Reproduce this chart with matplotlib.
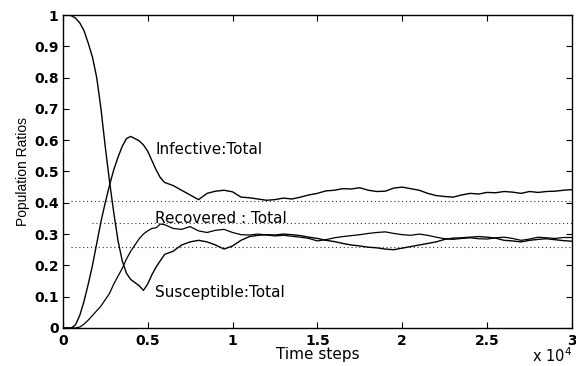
import matplotlib
matplotlib.use('Agg')
import matplotlib.pyplot as plt
from matplotlib.ticker import FuncFormatter, MultipleLocator

plt.rcParams['font.family'] = ['DejaVu Sans']

# time steps
time_steps = list(range(0, 6001, 250)) + list(range(6500, 30001, 500))

susceptible = [1.0, 1.0, 0.998, 0.99, 0.975, 0.95, 0.91, 0.865, 0.80, 0.70,
               0.58, 0.47, 0.37, 0.28, 0.215, 0.175, 0.155, 0.145, 0.135, 0.12,
               0.14, 0.17, 0.195, 0.215, 0.235,
               0.245, 0.265, 0.275, 0.28, 0.275, 0.265, 0.252, 0.262, 0.28, 0.292,
               0.296, 0.298, 0.297, 0.30, 0.298, 0.295, 0.29, 0.286, 0.28, 0.276,
               0.27, 0.265, 0.262, 0.258, 0.256, 0.252, 0.25, 0.255, 0.26, 0.265,
               0.27, 0.275, 0.283, 0.287, 0.288, 0.29, 0.292, 0.29, 0.287, 0.28,
               0.278, 0.275, 0.28, 0.283, 0.285, 0.282, 0.279, 0.277]

recovered = [0.0, 0.0, 0.0, 0.0, 0.003, 0.012, 0.025, 0.04, 0.055, 0.07,
             0.09, 0.11, 0.14, 0.165, 0.19, 0.22, 0.245, 0.265, 0.285, 0.30,
             0.31, 0.318, 0.32, 0.332, 0.33,
             0.318, 0.315, 0.324, 0.31, 0.305, 0.312, 0.315, 0.305, 0.298, 0.297,
             0.30, 0.297, 0.294, 0.296, 0.293, 0.29, 0.286, 0.278, 0.282, 0.288,
             0.292, 0.295, 0.298, 0.302, 0.305, 0.307, 0.302, 0.298, 0.296, 0.30,
             0.296, 0.29, 0.285, 0.283, 0.286, 0.288, 0.285, 0.284, 0.288, 0.29,
             0.286, 0.28, 0.284, 0.29, 0.288, 0.286, 0.289, 0.289]

infective = [0.0, 0.0, 0.0, 0.01, 0.04, 0.085, 0.14, 0.20, 0.27, 0.34,
             0.40, 0.455, 0.505, 0.545, 0.58, 0.605, 0.612, 0.605, 0.598, 0.585,
             0.565, 0.535, 0.505, 0.48, 0.465,
             0.455, 0.44, 0.425, 0.41, 0.43, 0.437, 0.44, 0.435, 0.418, 0.416,
             0.412, 0.408, 0.41, 0.415, 0.412, 0.418, 0.425, 0.43, 0.438, 0.44,
             0.445, 0.444, 0.448, 0.44, 0.436, 0.437, 0.447, 0.45, 0.445, 0.44,
             0.43, 0.423, 0.42, 0.418, 0.425, 0.43, 0.428, 0.433, 0.432, 0.436,
             0.434, 0.43, 0.436, 0.433, 0.436, 0.437, 0.44, 0.442]

# dotted reference levels (level, start time)
ref_levels = [0.405, 0.336, 0.258]
ref_starts = [500, 1700, 500]

labels = ['Infective:Total', 'Recovered : Total', 'Susceptible:Total']
label_pos = [(5450, 0.569), (5450, 0.351), (5450, 0.113)]

fig = plt.figure(figsize=(5.76, 3.66), dpi=100)
ax = fig.add_axes([0.109, 0.104, 0.884, 0.855])

for lvl, st in zip(ref_levels, ref_starts):
    ax.plot([st, 30000], [lvl, lvl], color='#333333', linestyle=(0, (1, 2.5)), linewidth=0.8)

ax.plot(time_steps, susceptible, color='black', linewidth=1.0)
ax.plot(time_steps, recovered, color='black', linewidth=0.9)
ax.plot(time_steps, infective, color='black', linewidth=1.0)

for txt, (x, y) in zip(labels, label_pos):
    ax.text(x, y, txt, fontsize=11, va='center', ha='left')

ax.set_xlim(0, 30000)
ax.set_ylim(0, 1)
ax.xaxis.set_major_locator(MultipleLocator(5000))
ax.yaxis.set_major_locator(MultipleLocator(0.1))
ax.xaxis.set_major_formatter(FuncFormatter(lambda v, p: f'{v / 1e4:g}'))
ax.yaxis.set_major_formatter(FuncFormatter(lambda v, p: f'{v:g}'))
ax.tick_params(direction='in', top=True, right=True, length=4, width=0.8,
               labelsize=10)
ax.tick_params(axis='x', pad=4.5)
ax.tick_params(axis='y', pad=3)

fig.canvas.draw()
for lab in ax.get_xticklabels() + ax.get_yticklabels():
    lab.set_fontweight('bold')

ax.set_xlabel('Time steps', fontsize=11, labelpad=-1)
ax.set_ylabel('Population Ratios', fontsize=10, labelpad=3,
              family=['Liberation Sans', 'DejaVu Sans'])
ax.text(1.0, -0.088, r'x 10$^4$', transform=ax.transAxes, ha='right', va='center',
        fontsize=10.5)

for s in ax.spines.values():
    s.set_linewidth(1.0)

plt.savefig('out.png', dpi=100)
